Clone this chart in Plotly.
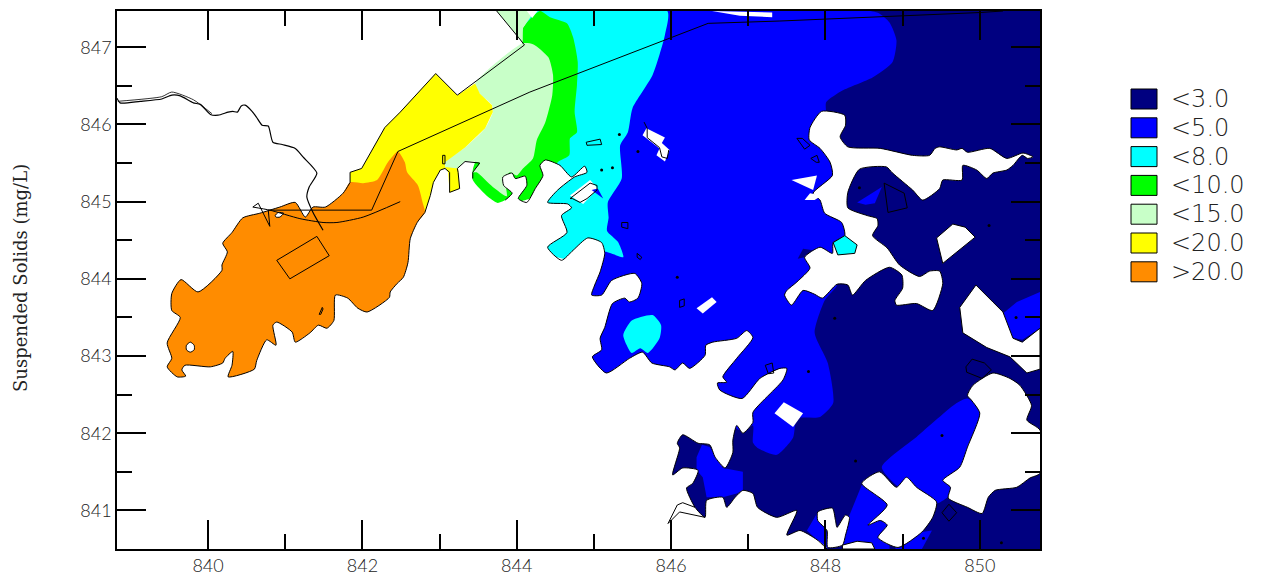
import plotly.graph_objects as go

# all polygons: (easting, northing)
NAVY_BASE = [(845.8,847.47),(850.78,847.47),(850.78,840.5),(845.8,840.5)]
BLUE_MAIN = [(845.60,847.47),(848.67,847.45),(848.83,847.32),(848.92,847.09),(848.87,846.81),(848.61,846.61),(848.22,846.44),(848.01,846.29),(848.01,846.16),(848.12,845.80),(848.19,845.41),(848.19,844.89),(848.25,844.56),(848.06,844.05),(848.15,843.92),(847.99,843.72),(847.86,843.30),(848.03,842.91),(848.10,842.39),(847.93,842.21),(847.63,842.19),(847.58,841.94),(847.37,841.72),(847.12,841.81),(847.06,841.88),(847.06,842.10),(846.89,842.04),(846.37,842.43),(844.82,842.43),(844.82,844.24),(844.95,845.02)]
BLUE_WEST = [(846.33,841.69),(846.40,841.85),(846.50,841.82),(846.67,841.55),(846.93,841.50),(846.93,841.26),(846.85,841.22),(846.67,841.17),(846.46,841.17),(846.41,841.43),(846.33,841.52)]
BLUE_SW = [(847.76,840.74),(847.89,840.96),(847.90,840.87),(848.01,840.74),(848.03,840.51),(847.89,840.62)]
BLUE_SMID = [(848.22,840.50),(848.22,840.65),(848.30,840.91),(848.47,841.33),(848.83,841.07),(848.83,840.50)]
BLUE_S2 = [(848.90,840.50),(849.03,840.62),(849.25,840.72),(849.38,840.74),(849.25,840.50)]
BLUE_SE = [(848.73,841.56),(849.18,841.95),(849.70,842.39),(849.84,842.45),(850.06,842.23),(849.61,841.20),(849.57,841.16),(849.44,841.09),(849.18,841.30),(848.96,841.30)]
BLUE_NE = [(850.30,843.55),(850.48,843.70),(850.78,843.83),(850.78,843.36),(850.55,843.21),(850.42,843.24)]
BLUE_LAKE = [(848.41,844.99),(848.73,845.19),(848.64,844.98),(848.52,844.96)]
NAVY_BIT = [(847.64,844.26),(847.71,844.39),(847.84,844.37),(847.73,844.28)]
CYAN_MAIN = [(844.17,847.47),(845.95,847.47),(845.92,847.16),(845.76,846.64),(845.50,846.21),(845.44,845.90),(845.34,845.73),(845.36,845.30),(845.18,844.99),(845.19,844.79),(845.17,844.62),(845.31,844.48),(845.38,844.28),(845.14,844.35),(844.95,844.22),(844.30,844.37),(844.37,845.02)]
GREEN_MAIN = [(844.07,847.05),(844.08,847.25),(844.30,847.47),(844.43,847.39),(844.65,847.31),(844.73,847.13),(844.79,846.81),(844.78,846.51),(844.75,846.16),(844.78,845.90),(844.69,845.82),(844.68,845.60),(844.53,845.51),(844.43,845.34),(844.24,845.15),(844.21,845.06),(844.07,845.01),(843.76,844.98),(843.63,845.06),(843.43,845.28),(843.43,845.41)]
PALE_MAIN = [(844.07,847.05),(843.46,846.53),(843.52,846.40),(843.68,846.25),(843.69,846.16),(843.59,845.95),(843.33,845.70),(843.07,845.51),(843.07,845.43),(843.23,845.43),(843.33,845.52),(843.52,845.50),(843.43,845.38),(843.48,845.38),(843.69,845.19),(843.87,845.07),(843.85,845.28),(843.91,845.38),(844.00,845.34),(844.08,845.43),(844.21,845.56),(844.26,845.80),(844.37,846.03),(844.46,846.38),(844.47,846.64),(844.41,846.87),(844.21,847.04)]
PALE_TOP = [(843.74,847.47),(844.02,847.13),(844.07,847.05),(844.08,847.25),(844.20,847.42),(844.15,847.47)]
YELLOW_MAIN = [(841.84,845.25),(841.84,845.38),(841.99,845.43),(842.29,845.96),(842.49,846.16),(842.95,846.66),(843.23,846.38),(843.46,846.53),(843.52,846.40),(843.68,846.25),(843.69,846.16),(843.59,845.95),(843.33,845.70),(843.07,845.51),(843.07,845.43),(843.01,845.41),(842.92,845.25),(842.88,845.08),(842.81,844.86),(842.49,845.02)]
YELLOW_NOTCH = [(843.07,845.45),(843.24,845.43),(843.26,845.17),(843.13,845.12),(843.11,845.38)]
ORANGE_COAST = [(842.81,844.86),(842.71,844.73),(842.62,844.52),(842.59,844.21),(842.53,844.02),(842.45,843.94),(842.36,843.83),(842.35,843.76),(842.06,843.57),(841.94,843.62),(841.81,843.75),(841.65,843.79),(841.63,843.46),(841.54,843.36),(841.43,843.40),(841.32,843.30),(841.13,843.18),(841.09,843.31),(840.89,843.44),(840.84,843.40),(840.88,843.14),(840.76,843.21),(840.63,842.94),(840.60,842.83),(840.26,842.73),(840.31,842.88),(840.32,843.06),(840.22,842.97),(840.19,842.91),(840.03,842.86),(839.70,842.88),(839.66,842.82),(839.71,842.74),(839.60,842.73),(839.47,842.86),(839.53,842.97),(839.47,843.17),(839.64,843.50),(839.53,843.59),(839.53,843.81),(839.65,843.99),(839.87,843.83),(840.18,844.11),(840.18,844.18),(840.25,844.35),(840.19,844.46),(840.31,844.60),(840.45,844.79),(840.67,844.85),(840.93,844.93),(841.13,844.99),(841.26,844.80),(841.36,844.93),(841.52,844.93),(841.75,845.11),(841.84,845.25)]
ORANGE_EDGE = [(842.01,845.24),(842.19,845.28),(842.33,845.51),(842.46,845.65),(842.55,845.51),(842.58,845.38),(842.72,845.21),(842.78,844.99)]
CYAN_BLOB = [(845.38,843.27),(845.49,843.46),(845.76,843.53),(845.87,843.40),(845.85,843.23),(845.70,843.04),(845.60,843.10),(845.49,843.04)]
CYAN_SMALL = [(848.10,844.47),(848.25,844.56),(848.41,844.44),(848.38,844.33),(848.16,844.31)]
SOUTH_COAST = [(843.85,845.02),(843.94,845.11),(843.83,845.21),(843.82,845.32),(843.94,845.37),(843.98,845.30),(844.11,845.33),(844.13,845.21),(844.02,845.04),(844.13,844.99),(844.24,845.17),(844.34,845.34),(844.30,845.47),(844.37,845.54),(844.56,845.47),(844.71,845.32),(844.88,845.46),(844.91,845.38),(844.75,845.32),(844.53,845.15),(844.40,844.99),(844.66,844.97),(844.71,844.92),(844.58,844.82),(844.65,844.60),(844.40,844.41),(844.58,844.24),(844.73,844.37),(844.92,844.53),(845.10,844.47),(845.14,844.33),(845.08,844.09),(845.01,843.92),(844.97,843.79),(845.10,843.79),(845.23,843.98),(845.53,844.07),(845.62,843.94),(845.57,843.75),(845.46,843.70),(845.40,843.75),(845.24,843.68),(845.14,843.37),(845.08,843.23),(845.10,843.08),(844.98,842.99),(845.16,842.78),(845.46,842.97),(845.63,843.05),(845.75,842.91),(845.98,842.86),(846.05,842.82),(846.15,842.91),(846.24,842.84),(846.44,843.01),(846.45,843.14),(846.54,843.18),(846.85,843.23),(846.98,843.33),(847.06,843.24),(846.85,842.97),(846.67,842.73),(846.72,842.66),(846.60,842.65),(846.63,842.56),(846.92,842.45),(847.15,842.71),(847.41,842.84),(847.50,842.84),(847.45,842.69),(847.06,842.27),(847.06,842.14),(846.93,842.00),(846.85,842.10),(846.80,841.91),(846.80,841.75),(846.70,841.55),(846.57,841.69),(846.50,841.85),(846.35,841.87),(846.15,841.98),(846.08,841.87),(846.11,841.81),(846.02,841.46),(846.15,841.55),(846.35,841.52),(846.28,841.35),(846.20,841.29),(846.31,841.04),(846.44,840.91),(846.46,841.13),(846.67,841.17),(846.72,841.04),(846.83,841.17),(846.93,841.26),(847.06,841.22),(847.12,841.04),(847.37,840.91),(847.63,841.00),(847.50,840.68),(847.67,840.74),(847.89,840.62),(848.02,840.50)]
SOUTH_CLOSE = [(838.82,840.50),(838.82,844.82),(842.88,844.82),(843.33,844.95),(843.65,844.95)]
LAND_Y = [(847.95,846.17),(848.25,846.12),(848.26,845.99),(848.19,845.84),(848.29,845.71),(848.71,845.69),(849.13,845.60),(849.35,845.60),(849.42,845.69),(849.48,845.71),(849.70,845.67),(849.77,845.69),(849.84,845.64),(850.13,845.69),(850.35,845.56),(850.56,845.63),(850.69,845.58),(850.62,845.56),(850.55,845.60),(850.43,845.47),(850.35,845.41),(850.17,845.37),(850.09,845.30),(849.96,845.41),(849.78,845.47),(849.77,845.28),(849.52,845.28),(849.48,845.17),(849.26,845.02),(849.13,845.15),(848.87,845.37),(848.79,845.45),(848.44,845.42),(848.29,845.12),(848.29,844.92),(848.54,844.82),(848.67,844.78),(848.68,844.69),(848.61,844.56),(848.80,844.40),(848.96,844.18),(849.22,844.03),(849.35,844.10),(849.48,844.10),(849.52,843.94),(849.39,843.59),(849.18,843.68),(848.92,843.66),(848.90,843.72),(849.00,843.88),(848.99,844.05),(848.83,844.15),(848.52,843.98),(848.35,843.79),(848.29,843.92),(848.15,843.93),(847.96,843.75),(847.86,843.80),(847.71,843.85),(847.56,843.66),(847.47,843.79),(847.50,843.85),(847.63,843.96),(847.80,844.14),(847.73,844.28),(847.93,844.41),(848.09,844.33),(848.10,844.47),(848.25,844.56),(848.21,844.73),(847.99,844.85),(847.93,845.02),(847.84,845.11),(848.09,845.34),(848.06,845.51),(847.93,845.69),(847.79,845.80),(847.80,845.96)]
LAND_3 = [(849.44,844.53),(849.65,844.71),(849.81,844.67),(849.94,844.54),(849.52,844.20)]
LAND_4 = [(849.74,843.63),(849.95,843.92),(850.17,843.70),(850.30,843.57),(850.43,843.23),(850.55,843.18),(850.78,843.36),(850.78,842.83),(850.61,842.78),(850.39,842.99),(850.09,843.11),(849.78,843.30)]
LAND_5 = [(849.84,842.49),(849.91,842.62),(850.17,842.78),(850.39,842.71),(850.52,842.62),(850.67,842.36),(850.61,842.17),(850.78,842.04),(850.78,841.48),(850.65,841.42),(850.48,841.30),(850.20,841.26),(850.11,841.17),(850.03,840.96),(849.84,841.04),(849.59,841.16),(849.62,841.30),(849.52,841.39),(849.74,841.56),(849.84,841.82),(850.00,842.26),(849.89,842.43)]
LAND_6 = [(848.47,841.35),(848.70,841.50),(848.92,841.30),(849.05,841.43),(849.18,841.30),(849.44,841.11),(849.39,840.91),(849.25,840.72),(848.94,840.52),(848.68,840.65),(848.80,840.81),(848.71,840.87),(848.55,840.81),(848.80,841.07)]
LAND_7 = [(847.90,840.98),(848.09,841.03),(848.13,840.87),(848.15,840.78),(848.26,840.94),(848.31,840.91),(848.26,840.68),(848.22,840.55),(848.03,840.52),(848.02,840.74),(847.90,840.87)]
LAND_8 = [(848.22,840.55),(848.41,840.60),(848.60,840.58),(848.64,840.50),(848.22,840.50)]
WHITE_BITS = [
    [(847.56,845.28),(847.89,845.34),(847.84,845.15)],
    [(847.73,845.02),(847.80,845.11),(847.95,845.08),(847.86,845.02)],
    [(845.63,845.86),(845.68,845.95),(845.92,845.83),(845.88,845.76),(845.98,845.67),(845.92,845.52),(845.81,845.60),(845.85,845.69)],
    [(844.69,845.08),(844.95,845.28),(845.05,845.17),(844.86,844.97)],
    [(846.33,843.62),(846.53,843.76),(846.59,843.70),(846.41,843.55)],
    [(847.34,842.26),(847.46,842.40),(847.71,842.26),(847.58,842.08)],
    [(846.53,847.47),(847.31,847.45),(847.31,847.39),(846.89,847.41)],
    [(844.13,847.47),(844.27,847.47),(844.20,847.38)],
]
BLUE_TRI = [(844.97,845.15),(845.05,845.17),(845.12,845.04)]
HOLES = [
    [(839.72,843.14),(839.77,843.18),(839.82,843.14),(839.82,843.08),(839.77,843.05),(839.72,843.08)],
    [(840.87,844.82),(840.91,844.86),(840.98,844.85),(840.93,844.80),(840.88,844.80)],
]
# thin outlines
RIVER = [(838.82,846.34),(838.86,846.28),(839.12,846.30),(839.40,846.33),(839.53,846.38),(839.64,846.37),(839.81,846.28),(839.90,846.26),(840.03,846.13),(840.13,846.12),(840.26,846.16),(840.32,846.17),(840.38,846.16),(840.43,846.24),(840.48,846.25),(840.57,846.17),(840.63,846.09),(840.70,845.99),(840.78,845.98),(840.84,845.77),(840.96,845.74),(841.13,845.69),(841.23,845.58),(841.41,845.37),(841.31,845.19),(841.28,845.06),(841.36,844.86),(841.49,844.63)]
RIVER_B = [(838.83,846.30),(839.40,846.36),(839.53,846.42),(839.81,846.32),(840.05,846.14)]
SHORE_NORTH = [(841.84,845.25),(841.84,845.38),(841.99,845.43),(842.29,845.96),(842.49,846.16),(842.95,846.66),(843.23,846.38),(844.10,847.03),(844.02,847.13),(843.74,847.47)]
COAST_BAY = [(842.81,844.86),(842.88,845.08),(842.92,845.25),(843.01,845.41),(843.07,845.43),(843.13,845.38),(843.13,845.12),(843.26,845.17),(843.24,845.38),(843.23,845.43),(843.33,845.52),(843.52,845.50),(843.43,845.38),(843.43,845.30)]
ROAD = [(840.78,844.89),(842.12,844.89),(842.46,845.65),(844.17,846.42),(846.48,847.31),(847.41,847.34),(850.00,847.45),(850.30,847.47)]
CURVE = [(840.58,844.93),(840.80,844.89),(841.19,844.78),(841.49,844.73),(841.67,844.73),(842.01,844.80),(842.49,845.00)]
SPIKE = [(840.58,844.93),(840.65,844.98),(840.80,844.68),(840.78,844.89)]
PIER = [(846.44,840.91),(846.28,840.94),(846.11,840.98),(845.96,840.83),(846.08,841.07),(846.15,841.10),(846.31,841.04)]
DOTTED_SHOAL = [(845.65,846.03),(845.69,845.95),(845.69,845.83),(845.85,845.70),(845.88,845.58),(845.95,845.56),(845.97,845.67)]
BAY_ISLE = [(844.69,845.04),(844.79,845.12),(844.95,845.24),(845.04,845.21),(845.04,845.15),(844.91,845.04),(844.82,844.99),(844.72,845.04)]
RECT = [(840.89,844.24),(841.41,844.55),(841.57,844.30),(841.06,844.00),(840.89,844.24)]
ISLETS = [
    [(841.44,843.54),(841.48,843.63),(841.49,843.61),(841.46,843.54)],
    [(843.04,845.60),(843.07,845.60),(843.07,845.49),(843.04,845.49)],
    [(844.90,845.77),(845.08,845.81),(845.10,845.74),(844.91,845.73)],
    [(845.36,844.73),(845.44,844.73),(845.44,844.65),(845.36,844.67)],
    [(845.56,844.33),(845.62,844.28),(845.60,844.25),(845.56,844.28)],
    [(847.63,845.82),(847.70,845.82),(847.80,845.73),(847.73,845.68)],
    [(847.81,845.56),(847.89,845.60),(847.92,845.51),(847.88,845.51)],
    [(846.11,843.72),(846.17,843.74),(846.17,843.65),(846.11,843.63)],
    [(847.22,842.88),(847.31,842.91),(847.33,842.78),(847.26,842.77)],
    [(849.82,842.86),(849.90,842.96),(850.06,842.91),(850.15,842.82),(850.03,842.71),(849.83,842.79)],
    [(849.51,840.97),(849.60,841.08),(849.70,840.97),(849.60,840.86)],
    [(848.76,845.24),(849.02,845.11),(849.06,844.92),(848.81,844.86)],
]
DOTS_X = [845.33,845.10,845.24,845.57,846.08,848.12,847.78,849.51,848.39,849.27,850.28,850.47,850.12,848.44]
DOTS_Y = [845.87,845.41,845.44,845.65,844.02,843.49,842.80,841.97,841.64,840.64,840.58,843.50,844.69,845.18]

LEGEND_LABELS = ["<3.0","<5.0","<8.0","<10.0","<15.0","<20.0",">20.0"]
LEGEND_COLORS = ["#000080","#0000ff","#00ffff","#00ff00","#c8ffc8","#ffff00","#ff8c00"]
NAVY,BLUE,CYAN,GREEN,PALE,YELLOW,ORANGE = LEGEND_COLORS
XTICKS = [840,842,844,846,848,850]
XMINOR = [841,843,845,847,849]
YTICKS = [841,842,843,844,845,846,847]
YMINOR = [840.5,841.5,842.5,843.5,844.5,845.5,846.5]

fig = go.Figure()
def fill(poly, color, outline=False, smooth=False):
    p = list(poly)+[poly[0]]
    lw = dict(color="black" if outline else color, width=1 if outline else 0)
    if smooth:
        lw.update(shape="spline", smoothing=0.6)
    fig.add_trace(go.Scatter(x=[a for a,_ in p], y=[b for _,b in p], mode="lines", fill="toself",
        fillcolor=color, line=lw, hoverinfo="skip", showlegend=False))
def line(poly, width=1.0, close=False, smooth=False):
    p = list(poly)+([poly[0]] if close else [])
    lw = dict(color="black", width=width)
    if smooth:
        lw.update(shape="spline", smoothing=0.6)
    fig.add_trace(go.Scatter(x=[a for a,_ in p], y=[b for _,b in p], mode="lines",
        line=lw, hoverinfo="skip", showlegend=False))

fill(NAVY_BASE, NAVY)
for b in [BLUE_WEST,BLUE_SW,BLUE_SMID,BLUE_S2,BLUE_NE,BLUE_LAKE]:
    fill(b, BLUE)
fill(BLUE_MAIN, BLUE, smooth=True)
fill(BLUE_SE, BLUE, smooth=True)
fill(NAVY_BIT, NAVY)
fill(CYAN_MAIN, CYAN, smooth=True)
fill(GREEN_MAIN, GREEN, smooth=True)
fill(PALE_MAIN, PALE, smooth=True); fill(PALE_TOP, PALE)
fill(SOUTH_COAST+SOUTH_CLOSE, "#ffffff", smooth=True)
fill(YELLOW_MAIN, YELLOW); fill(YELLOW_NOTCH, YELLOW)
fill(ORANGE_COAST+ORANGE_EDGE, ORANGE, smooth=True)
fill(CYAN_BLOB, CYAN, smooth=True)
for land in [LAND_Y,LAND_5,LAND_6,LAND_7]:
    fill(land, "#ffffff", outline=True, smooth=True)
for land in [LAND_3,LAND_4,LAND_8]:
    fill(land, "#ffffff", outline=True)
for w in WHITE_BITS:
    fill(w, "#ffffff")
fill(CYAN_SMALL, CYAN, outline=True)
fill(BLUE_TRI, BLUE)
for h in HOLES:
    fill(h, "#ffffff", outline=True, smooth=True)
line(SOUTH_COAST, smooth=True); line(ORANGE_COAST, smooth=True); line(COAST_BAY); line(SHORE_NORTH)
line(RIVER, 1.2, smooth=True); line(RIVER_B, 0.8, smooth=True)
line(ROAD); line(CURVE, smooth=True); line(SPIKE); line(PIER); line(DOTTED_SHOAL)
line(BAY_ISLE, close=True); line(RECT)
for i in ISLETS:
    line(i, close=True)
fig.add_trace(go.Scatter(x=DOTS_X, y=DOTS_Y, mode="markers", marker=dict(color="black", size=3),
    hoverinfo="skip", showlegend=False))

axis = dict(showgrid=False, zeroline=False, showline=True, linecolor="black", linewidth=1.5, automargin=False,
    mirror="allticks", ticks="inside", ticklen=29, tickwidth=1.5, tickcolor="black",
    tickfont=dict(family="Lato", size=18, color="#222", weight=300))
minor = dict(ticks="inside", ticklen=15, tickwidth=1.5, tickcolor="black", showgrid=False)
fig.update_xaxes(range=[838.82,850.78], tickvals=XTICKS, ticktext=[str(v) for v in XTICKS],
    minor=dict(tickvals=XMINOR, **minor), **axis)
fig.update_yaxes(range=[840.5,847.47], tickvals=YTICKS, ticktext=[str(v) for v in YTICKS],
    minor=dict(tickvals=YMINOR, **minor), **axis)

W,H = 1262,576
L,R,T,B = 117,1040,11,549
for i,(lab,col) in enumerate(zip(LEGEND_LABELS,LEGEND_COLORS)):
    top = 89+i*28.8
    fig.add_shape(type="rect", xref="paper", yref="paper",
        x0=(1131-L)/(R-L), x1=(1157-L)/(R-L), y0=(B-top)/(B-T), y1=(B-top-20)/(B-T),
        fillcolor=col, line=dict(color="black", width=1))
    fig.add_annotation(text=lab, xref="paper", yref="paper", x=(1169-L)/(R-L), y=(B-top-10)/(B-T),
        xanchor="left", yanchor="middle", showarrow=False,
        font=dict(family="DejaVu Sans", size=24, color="#222", weight=200))
fig.add_annotation(text="Suspended Solids (mg/L)", xref="paper", yref="paper", x=(20-L)/(R-L), y=(B-278)/(B-T),
    xanchor="center", yanchor="middle", textangle=-90, showarrow=False,
    font=dict(family="DejaVu Serif", size=18, color="#222"))
fig.update_layout(width=W, height=H, margin=dict(l=L,r=W-R,t=T,b=H-B,pad=0),
    plot_bgcolor="white", paper_bgcolor="white", showlegend=False)
fig.write_html("out.html", post_script="document.body.style.margin='0';", config=dict(displayModeBar=False))
